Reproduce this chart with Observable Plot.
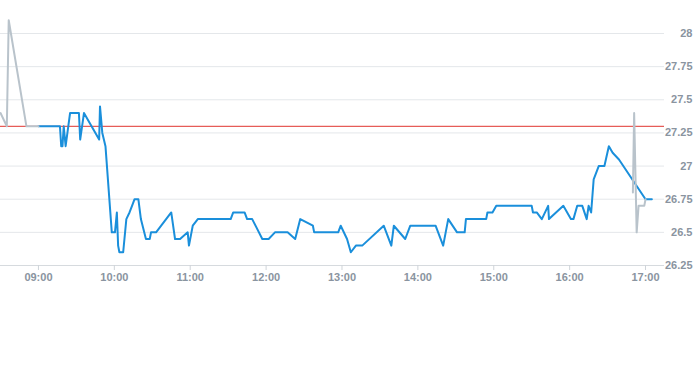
<!DOCTYPE html>
<html>
<head>
<meta charset="utf-8">
<script src="https://cdn.jsdelivr.net/npm/d3@7"></script>
<script src="https://cdn.jsdelivr.net/npm/@observablehq/plot@0.6"></script>
<style>
  html, body { margin: 0; padding: 0; background: #ffffff; overflow: hidden; }
</style>
</head>
<body>
<div id="chart"></div>
<script>
// Pre-market (grey)
const preTimes  = ["08:30", "08:35", "08:36:30", "08:50:30", "09:00"];
const prePrices = [27.4, 27.3, 28.1, 27.3, 27.3];

// Regular session (blue)
const regTimes = [
  "09:00","09:17","09:18","09:19","09:20","09:21:30","09:25","09:32","09:33","09:36",
  "09:48","09:48:40","09:50:30","09:53","09:58","10:00:30","10:02","10:03","10:04","10:07",
  "10:09:30","10:12","10:14","10:16","10:19","10:21","10:25","10:28","10:29","10:33",
  "10:45","10:48","10:52","10:58","10:59","11:02","11:06","11:32","11:34","11:43",
  "11:45","11:49","11:57","12:02","12:07","12:17","12:23","12:27","12:37","12:38",
  "12:57","12:59","13:04","13:07","13:11","13:16","13:33","13:39","13:41","13:50",
  "13:54","14:14","14:20","14:24","14:31","14:37","14:38","14:54","14:55","14:59",
  "15:02","15:30","15:31","15:34","15:38","15:43","15:43:40","15:55","16:01","16:03",
  "16:06","16:10","16:13:30","16:15","16:17","16:19","16:23","16:27:30","16:31","16:34",
  "16:39","17:00","17:05"
];
const regPrices = [
  27.3,27.3,27.15,27.15,27.3,27.15,27.4,27.4,27.2,27.4,
  27.2,27.45,27.25,27.15,26.5,26.5,26.65,26.4,26.35,26.35,
  26.6,26.65,26.7,26.75,26.75,26.6,26.45,26.45,26.5,26.5,
  26.65,26.45,26.45,26.5,26.4,26.55,26.6,26.6,26.65,26.65,
  26.6,26.6,26.45,26.45,26.5,26.5,26.45,26.6,26.55,26.5,
  26.5,26.55,26.45,26.35,26.4,26.4,26.55,26.4,26.55,26.45,
  26.55,26.55,26.4,26.6,26.5,26.5,26.6,26.6,26.65,26.65,
  26.7,26.7,26.65,26.65,26.6,26.7,26.6,26.7,26.6,26.6,
  26.7,26.7,26.6,26.7,26.65,26.9,27.0,27.0,27.15,27.1,
  27.05,26.75,26.75
];

// After-hours (grey)
const postTimes  = ["16:50", "16:51", "16:53", "16:54:30", "16:59", "17:00"];
const postPrices = [26.8, 27.4, 26.5, 26.7, 26.7, 26.75];

const previousClose = 27.3;
const yTicks = [26.25, 26.5, 26.75, 27, 27.25, 27.5, 27.75, 28];
const xTickLabels = ["09:00","10:00","11:00","12:00","13:00","14:00","15:00","16:00","17:00"];
const xDomain = ["08:30", "17:15"];

function t(s) {
  const [h, m, sec] = s.split(":").map(Number);
  return new Date(Date.UTC(2024, 0, 2, h, m, sec || 0));
}
const mk = (times, prices) => times.map((s, i) => ({time: t(s), price: prices[i]}));
const pre = mk(preTimes, prePrices);
const reg = mk(regTimes, regPrices);
const post = mk(postTimes, postPrices);

const chart = Plot.plot({
  width: 693,
  height: 365,
  marginTop: 33,
  marginBottom: 100,
  marginLeft: 0,
  marginRight: 29,
  x: {type: "utc", domain: xDomain.map(t)},
  y: {domain: [26.25, 28]},
  style: {fontFamily: "'Liberation Sans', Arial, sans-serif", fontSize: "11px", fontWeight: "bold", color: "#8a94a0", background: "#ffffff", overflow: "visible"},
  marks: [
    Plot.gridY(yTicks, {stroke: "#e4e7ea", strokeOpacity: 1}),
    Plot.ruleY([26.25], {stroke: "#d6dade"}),
    Plot.ruleY([previousClose], {stroke: "#e0342f", strokeWidth: 1}),
    Plot.line(reg, {x: "time", y: "price", stroke: "#1a8fdb", strokeWidth: 2}),
    Plot.line(pre, {x: "time", y: "price", stroke: "#b9c3cb", strokeWidth: 2}),
    Plot.line(post, {x: "time", y: "price", stroke: "#b9c3cb", strokeWidth: 2}),
    Plot.axisY(yTicks, {anchor: "right", tickSize: 0, tickPadding: 3, textAnchor: "end", dx: 25, tickFormat: d => String(d), label: null}),
    Plot.axisX(xTickLabels.map(t), {anchor: "bottom", tickSize: 5, tickPadding: 3, stroke: "#cfd4d9", tickFormat: d3.utcFormat("%H:%M"), label: null})
  ]
});
document.getElementById("chart").appendChild(chart);
</script>
</body>
</html>
